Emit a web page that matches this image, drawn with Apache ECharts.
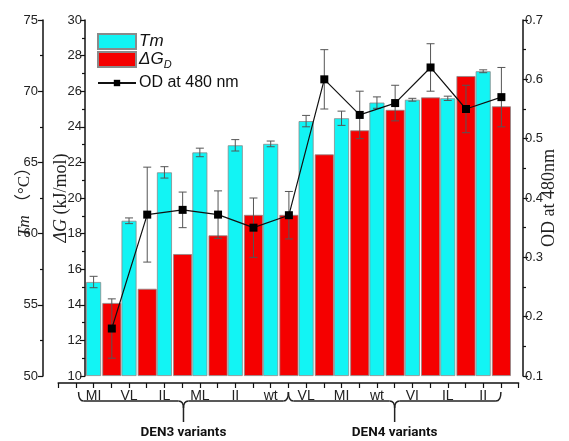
<!DOCTYPE html>
<html>
<head>
<meta charset="utf-8">
<script src="https://cdn.jsdelivr.net/npm/echarts@6/dist/echarts.min.js"></script>
<style>
html,body{margin:0;padding:0;background:#fff;}
#chart{width:569px;height:441px;}
</style>
</head>
<body>
<div id="chart"></div>
<script>
// ---- data ----
const categories = ['MI','VL','IL','ML','II','wt','VL','MI','wt','VI','IL','II'];
const groupNames = ['DEN3 variants','DEN4 variants'];
const groupSizes = [6, 6];
const tmValues = [56.6, 60.9, 64.3, 65.7, 66.2, 66.3, 67.9, 68.1, 69.2, 69.4, 69.5, 71.4];
const tmErrors = [0.4, 0.2, 0.4, 0.3, 0.4, 0.2, 0.4, 0.5, 0.4, 0.1, 0.15, 0.1];
const dgValues = [14.1, 14.9, 16.85, 17.9, 19.05, 19.05, 22.45, 23.8, 24.95, 25.65, 26.85, 25.15];
const odValues = [0.18, 0.372, 0.38, 0.372, 0.35, 0.371, 0.60, 0.54, 0.56, 0.62, 0.55, 0.57];
const odErrors = [0.05, 0.08, 0.03, 0.04, 0.05, 0.04, 0.05, 0.04, 0.03, 0.04, 0.04, 0.05];
const tmAxis = {min: 50, max: 75, interval: 5};
const dgAxis = {min: 10, max: 30, interval: 2};
const odAxis = {min: 0.1, max: 0.7, interval: 0.1};

// ---- layout ----
const W = 569, H = 441;
const GRID_LEFT = 86, GRID_RIGHT = 58, GRID_TOP = 20, GRID_BOTTOM = 65;
const CYAN_W = 15, RED_W = 19, GAP = 0.08;
const catW = (W - GRID_LEFT - GRID_RIGHT) / categories.length;
const widthSum = CYAN_W * (1 + GAP) + RED_W;
const cyanOff = -widthSum / 2 + CYAN_W / 2;
const redOff = -widthSum / 2 + CYAN_W * (1 + GAP) + RED_W / 2;
const unit = catW / 2;
const rulerMin = -2, rulerMax = categories.length * 2;
const rulerLeft = GRID_LEFT + catW / 2 + cyanOff + rulerMin * unit;
const rulerWidth = (rulerMax - rulerMin) * unit;
const rulerRight = W - rulerLeft - rulerWidth;
const odXMin = -0.5 - redOff / catW;
const odXMax = odXMin + categories.length;

const SANS = 'Liberation Sans, Arial, sans-serif';
const SERIF = 'Liberation Serif, Times New Roman, Noto Sans CJK JP, serif';
const AX = '#111';

const chart = echarts.init(document.getElementById('chart'), null, {renderer: 'canvas'});

function errRender(xOffset) {
  return function (params, api) {
    const i = api.value(0), v = api.value(1), e = api.value(2);
    const p = api.coord([i, v]);
    const hi = api.coord([i, v + e]);
    const lo = api.coord([i, v - e]);
    const x = p[0] + xOffset;
    const cap = 4;
    const st = {stroke: '#555', lineWidth: 1};
    return {
      type: 'group',
      children: [
        {type: 'line', shape: {x1: x, y1: hi[1], x2: x, y2: lo[1]}, style: st},
        {type: 'line', shape: {x1: x - cap, y1: hi[1], x2: x + cap, y2: hi[1]}, style: st},
        {type: 'line', shape: {x1: x - cap, y1: lo[1], x2: x + cap, y2: lo[1]}, style: st}
      ]
    };
  };
}

const yCommon = {
  type: 'value',
  splitLine: {show: false},
  axisLine: {show: true, onZero: false, lineStyle: {color: AX, width: 1.5}},
  axisTick: {show: true, length: 5, lineStyle: {color: AX, width: 1.2}},
  minorTick: {show: true, splitNumber: 2, length: 3, lineStyle: {color: AX, width: 1.2}},
  axisLabel: {fontSize: 13, color: '#222', fontFamily: SANS, margin: 3},
  nameLocation: 'middle',
  nameRotate: 90,
  nameMoveOverlap: false
};

const option = {
  animation: false,
  backgroundColor: '#fff',
  grid: [
    {left: GRID_LEFT, right: GRID_RIGHT, top: GRID_TOP, bottom: GRID_BOTTOM, containLabel: false, outerBoundsMode: 'none'},
    {left: rulerLeft, right: rulerRight, top: GRID_TOP, bottom: GRID_BOTTOM, containLabel: false, outerBoundsMode: 'none'}
  ],
  xAxis: [
    {type: 'category', gridIndex: 0, data: categories, show: false, axisLine: {onZero: false}},
    {type: 'value', gridIndex: 0, min: odXMin, max: odXMax, show: false, axisLine: {onZero: false}},
    {
      type: 'value', gridIndex: 1, min: rulerMin, max: rulerMax, interval: 1,
      position: 'bottom', offset: 7,
      splitLine: {show: false},
      axisLine: {show: true, onZero: false, lineStyle: {color: AX, width: 1.5}},
      axisTick: {show: true, length: 5, lineStyle: {color: AX, width: 1.2}},
      axisLabel: {
        fontSize: 14, color: '#222', fontFamily: SANS, margin: 6, showMinLabel: true, showMaxLabel: true,
        formatter: function (v) {
          const k = Math.round(v);
          if (k >= 0 && k % 2 === 0 && k / 2 < categories.length) return categories[k / 2];
          return '';
        }
      }
    }
  ],
  yAxis: [
    Object.assign({}, yCommon, {
      gridIndex: 0, position: 'left', offset: GRID_LEFT - 43,
      min: tmAxis.min, max: tmAxis.max, interval: tmAxis.interval, startValue: tmAxis.min,
      axisLabel: {fontSize: 13, color: '#222', fontFamily: SANS, margin: 5},
      name: '{i|Tm} （°C）', nameGap: 10,
      nameTextStyle: {fontSize: 17, color: '#222', fontFamily: SERIF,
        rich: {i: {fontStyle: 'italic', fontSize: 17, fontFamily: SERIF, color: '#222'}}}
    }),
    Object.assign({}, yCommon, {
      gridIndex: 0, position: 'left', offset: 1,
      min: dgAxis.min, max: dgAxis.max, interval: dgAxis.interval, startValue: dgAxis.min,
      name: '{i|ΔG} (kJ/mol)', nameGap: 15,
      nameTextStyle: {fontSize: 18, color: '#222', fontFamily: SERIF,
        rich: {i: {fontStyle: 'italic', fontSize: 18, fontFamily: SERIF, color: '#222'}}}
    }),
    Object.assign({}, yCommon, {
      gridIndex: 0, position: 'right', offset: 12,
      min: odAxis.min, max: odAxis.max, interval: odAxis.interval,
      name: 'OD at 480nm', nameGap: 17,
      nameTextStyle: {fontSize: 18, color: '#222', fontFamily: SERIF},
      axisLabel: {fontSize: 13, color: '#222', fontFamily: SANS, margin: 2,
        formatter: function (v) { return v.toFixed(1); }}
    }),
    {type: 'value', gridIndex: 1, show: false, axisLine: {onZero: false}}
  ],
  legend: [
    {
      data: [{name: 'Tm', icon: 'rect'}, {name: 'ΔGD', icon: 'rect'}],
      orient: 'vertical', left: 92, top: 28, itemWidth: 38, itemHeight: 15, itemGap: 1,
      selectedMode: false,
      formatter: function (n) { return n === 'Tm' ? '{i|Tm}' : '{i|ΔG}{sub|D}'; },
      textStyle: {fontSize: 16, color: '#111', fontFamily: SANS, padding: [0, 0, 0, -2],
        rich: {
          i: {fontStyle: 'italic', fontSize: 17, fontFamily: SANS, color: '#111'},
          sub: {fontStyle: 'italic', fontSize: 11, fontFamily: SANS, color: '#111', padding: [10, 0, 0, 0]}
        }}
    },
    {
      data: ['OD at 480 nm'],
      left: 92, top: 70, itemWidth: 38, itemHeight: 8,
      selectedMode: false,
      textStyle: {fontSize: 16, color: '#111', fontFamily: SANS, padding: [0, 0, 0, -2]}
    }
  ],
  series: [
    {
      name: 'Tm', type: 'bar', xAxisIndex: 0, yAxisIndex: 0, data: tmValues,
      barWidth: CYAN_W, barGap: (GAP * 100) + '%', clip: true,
      itemStyle: {color: '#12F4F4', borderColor: '#8a8a8a', borderWidth: 0.8}, z: 2
    },
    {
      name: 'ΔGD', type: 'bar', xAxisIndex: 0, yAxisIndex: 1, data: dgValues,
      barWidth: RED_W, barGap: (GAP * 100) + '%', clip: true,
      itemStyle: {color: '#F50000', borderColor: '#8a8a8a', borderWidth: 0.8}, z: 2
    },
    {
      type: 'custom', xAxisIndex: 0, yAxisIndex: 0, z: 3,
      renderItem: errRender(cyanOff),
      data: tmValues.map(function (v, i) { return [i, v, tmErrors[i]]; }),
      silent: true
    },
    {
      type: 'custom', xAxisIndex: 1, yAxisIndex: 2, z: 4,
      renderItem: errRender(0),
      data: odValues.map(function (v, i) { return [i, v, odErrors[i]]; }),
      silent: true
    },
    {
      name: 'OD at 480 nm', type: 'line', xAxisIndex: 1, yAxisIndex: 2, z: 5,
      data: odValues.map(function (v, i) { return [i, v]; }),
      symbol: 'rect', symbolSize: 8, showSymbol: true,
      lineStyle: {color: '#111', width: 1.2},
      itemStyle: {color: '#000'}
    }
  ]
};
chart.setOption(option);

// group braces under the category ruler
const graphics = [];
let start = 0;
const BR = {stroke: '#222', lineWidth: 1.5, fill: null};
groupSizes.forEach(function (n, g) {
  const a = start * 2 - 1 + (g === 0 ? 0.15 : 0);
  const b = (start + n) * 2 - 1;
  const x1 = chart.convertToPixel({xAxisIndex: 2}, a);
  const x2 = chart.convertToPixel({xAxisIndex: 2}, b);
  const xm = (x1 + x2) / 2;
  const yTop = 392, yH = 401, yTip = 422;
  graphics.push({type: 'bezierCurve', shape: {x1: x1, y1: yTop, x2: x1 + 5, y2: yH, cpx1: x1, cpy1: yH}, style: BR});
  graphics.push({type: 'line', shape: {x1: x1 + 5, y1: yH, x2: xm - 5, y2: yH}, style: BR});
  graphics.push({type: 'bezierCurve', shape: {x1: xm - 5, y1: yH, x2: xm, y2: yH + 7, cpx1: xm, cpy1: yH}, style: BR});
  graphics.push({type: 'bezierCurve', shape: {x1: xm + 5, y1: yH, x2: xm, y2: yH + 7, cpx1: xm, cpy1: yH}, style: BR});
  graphics.push({type: 'line', shape: {x1: xm, y1: yH + 7, x2: xm, y2: yTip}, style: BR});
  graphics.push({type: 'line', shape: {x1: xm + 5, y1: yH, x2: x2 - 5, y2: yH}, style: BR});
  graphics.push({type: 'bezierCurve', shape: {x1: x2 - 5, y1: yH, x2: x2, y2: yTop, cpx1: x2, cpy1: yH}, style: BR});
  graphics.push({
    type: 'text', x: xm, y: 433,
    style: {text: groupNames[g], fontSize: 13.5, fontWeight: 'bold', fontFamily: 'Roboto, ' + SANS,
      fill: '#111', align: 'center', verticalAlign: 'middle'}
  });
  start += n;
});
chart.setOption({graphic: graphics});
</script>
</body>
</html>
